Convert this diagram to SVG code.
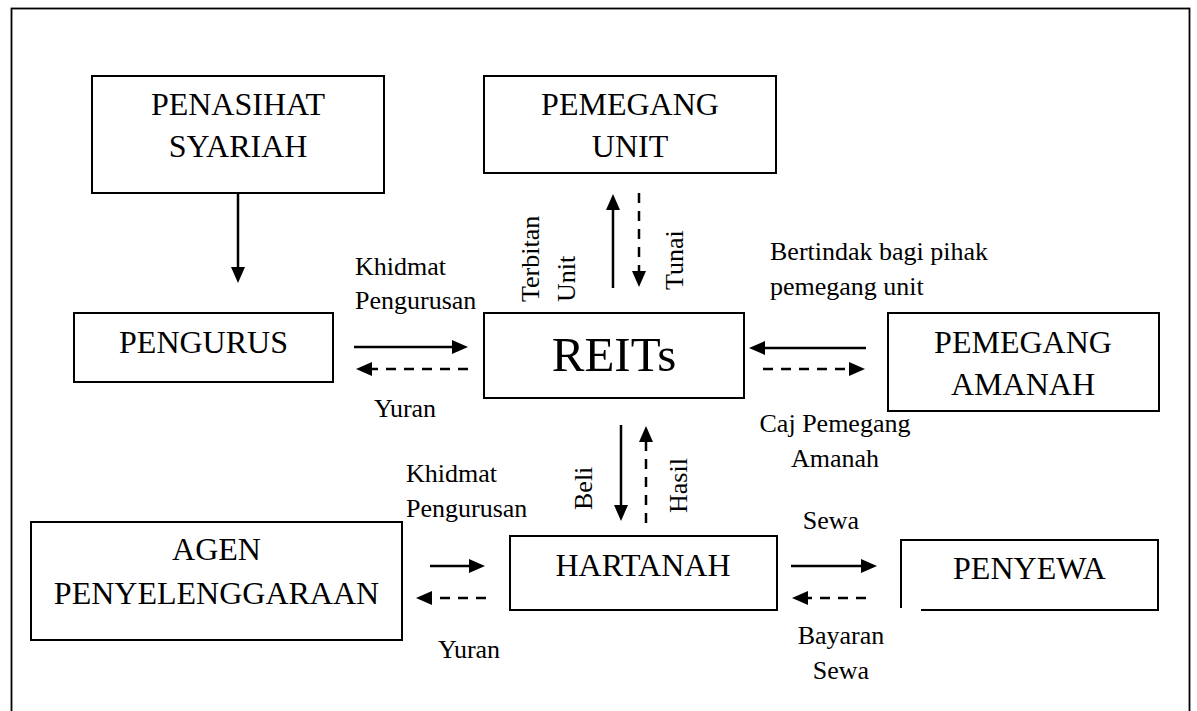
<svg xmlns="http://www.w3.org/2000/svg" width="1197" height="711" viewBox="0 0 1197 711">
<style>
.box{fill:#fff;stroke:#000;stroke-width:2}
.frame{fill:none;stroke:#000;stroke-width:1.8}
.t{font-family:"Liberation Serif","Times New Roman",serif;fill:#000}
.n{font-size:32px;text-anchor:middle}
.big{font-size:49px;text-anchor:middle}
.l{font-size:26px}
.c{text-anchor:middle}
.s{fill:none;stroke:#000;stroke-width:2.5;marker-end:url(#ah)}
.d{fill:none;stroke:#000;stroke-width:2.5;stroke-dasharray:10 8;marker-end:url(#ah)}
</style>
<defs>
<marker id="ah" viewBox="0 -7 16 14" refX="1" refY="0" markerWidth="16" markerHeight="14" markerUnits="userSpaceOnUse" orient="auto">
<path d="M0,-7 L16,0 L0,7 z" fill="#000"/>
</marker>
</defs>
<rect class="frame" x="11.5" y="8.5" width="1178" height="720"/>

<g id="penasihat">
<rect class="box" x="92" y="76" width="292" height="117"/>
<text class="t n" x="238" y="115">PENASIHAT</text>
<text class="t n" x="238" y="157">SYARIAH</text>
</g>
<g id="pemegang-unit">
<rect class="box" x="484" y="76" width="292" height="97"/>
<text class="t n" x="630" y="115">PEMEGANG</text>
<text class="t n" x="630" y="157">UNIT</text>
</g>
<g id="pengurus">
<rect class="box" x="74" y="313" width="259" height="69"/>
<text class="t n" x="203.5" y="353">PENGURUS</text>
</g>
<g id="reits">
<rect class="box" x="484" y="313" width="260" height="85"/>
<text class="t big" x="614" y="371">REITs</text>
</g>
<g id="pemegang-amanah">
<rect class="box" x="888" y="313" width="271" height="98"/>
<text class="t n" x="1023" y="353">PEMEGANG</text>
<text class="t n" x="1023" y="395">AMANAH</text>
</g>
<g id="agen">
<rect class="box" x="31" y="522" width="371" height="118"/>
<text class="t n" x="216.5" y="560">AGEN</text>
<text class="t n" x="216.5" y="604">PENYELENGGARAAN</text>
</g>
<g id="hartanah">
<rect class="box" x="510" y="536" width="267" height="74"/>
<text class="t n" x="643" y="576">HARTANAH</text>
</g>
<g id="penyewa">
<path d="M921,610 H1158 V540 H901 V608" fill="#fff" stroke="#000" stroke-width="2"/>
<text class="t n" x="1029.5" y="579">PENYEWA</text>
</g>

<g id="connectors">
<line class="s" x1="238" y1="193" x2="238" y2="268"/>
<line class="s" x1="354" y1="347" x2="453" y2="347"/>
<line class="d" x1="468" y1="369" x2="371" y2="369"/>
<line class="s" x1="613" y1="288" x2="613" y2="209"/>
<line class="d" x1="639" y1="193" x2="639" y2="272"/>
<line class="s" x1="866" y1="348" x2="764" y2="348"/>
<line class="d" x1="763" y1="369" x2="850" y2="369"/>
<line class="s" x1="621" y1="425" x2="621" y2="506"/>
<line class="d" x1="646" y1="523" x2="646" y2="441"/>
<line class="s" x1="430" y1="566" x2="470" y2="566"/>
<line class="d" x1="486" y1="598" x2="431" y2="598"/>
<line class="s" x1="791" y1="566" x2="862" y2="566"/>
<line class="d" x1="866" y1="598" x2="807" y2="598"/>
</g>

<g id="labels">
<text class="t l" x="355" y="275">Khidmat</text>
<text class="t l" x="355" y="309">Pengurusan</text>
<text class="t l" x="374" y="417">Yuran</text>
<text class="t l" transform="translate(539,302) rotate(-90)">Terbitan</text>
<text class="t l" transform="translate(575,302) rotate(-90)">Unit</text>
<text class="t l" transform="translate(683,290) rotate(-90)">Tunai</text>
<text class="t l" x="770" y="260">Bertindak bagi pihak</text>
<text class="t l" x="770" y="295">pemegang unit</text>
<text class="t l c" x="835" y="432">Caj Pemegang</text>
<text class="t l c" x="835" y="467">Amanah</text>
<text class="t l" x="406" y="482">Khidmat</text>
<text class="t l" x="406" y="517">Pengurusan</text>
<text class="t l" transform="translate(592,510) rotate(-90)">Beli</text>
<text class="t l" transform="translate(687,513) rotate(-90)">Hasil</text>
<text class="t l c" x="831" y="529">Sewa</text>
<text class="t l" x="438" y="658">Yuran</text>
<text class="t l c" x="841" y="644">Bayaran</text>
<text class="t l c" x="841" y="679">Sewa</text>
</g>
</svg>
